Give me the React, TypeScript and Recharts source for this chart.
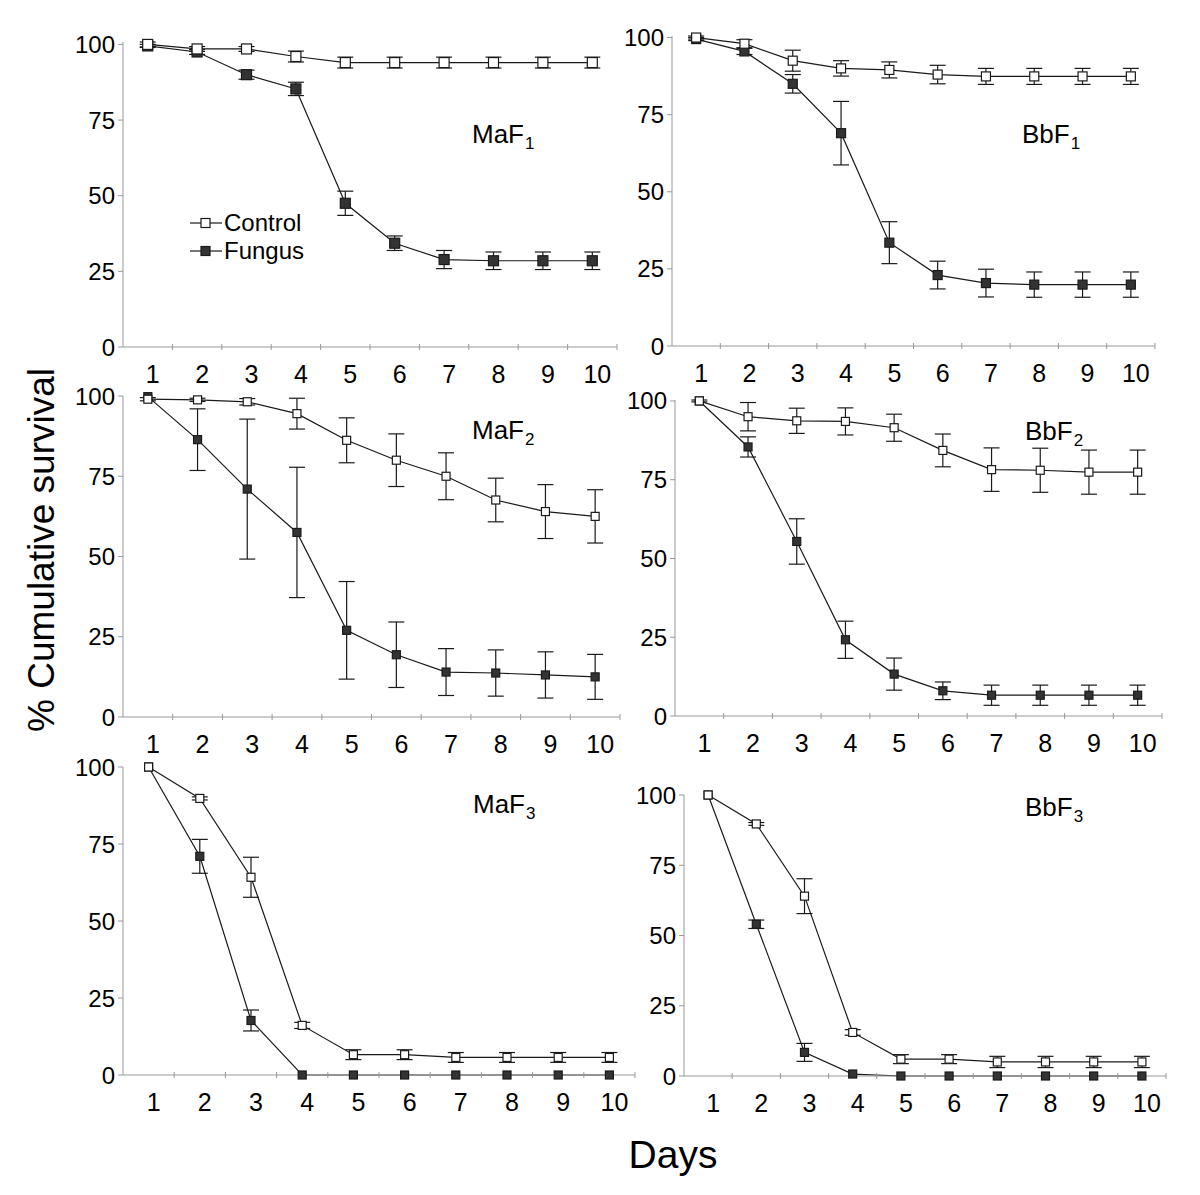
import React from 'react';
import { ErrorBar, Line, LineChart, XAxis, YAxis } from 'recharts';

const days = [1, 2, 3, 4, 5, 6, 7, 8, 9, 10];
const yTicks = [0, 25, 50, 75, 100];

const maf1Control = [100, 98.5, 98.5, 96, 94, 94, 94, 94, 94, 94];
const maf1ControlErr = [0.8, 0.8, 0.8, 1.8, 1.8, 1.8, 1.8, 1.8, 1.8, 1.8];
const maf1Fungus = [99.5, 97.5, 90, 85.3, 47.5, 34.3, 28.9, 28.5, 28.5, 28.5];
const maf1FungusErr = [0.5, 0.8, 1.5, 2.2, 4, 2.4, 3, 2.9, 2.9, 2.9];

const bbf1Control = [100, 98, 92.5, 90, 89.5, 88, 87.4, 87.4, 87.4, 87.4];
const bbf1ControlErr = [0.5, 1.3, 3.4, 2.5, 2.6, 3, 2.6, 2.6, 2.6, 2.6];
const bbf1Fungus = [99.5, 95.5, 85, 69, 33.5, 23, 20.4, 19.9, 19.9, 19.9];
const bbf1FungusErr = [0.5, 1, 3, 10.3, 6.8, 4.5, 4.5, 4.1, 4.1, 4.1];

const maf2Control = [99, 98.8, 98.2, 94.5, 86.2, 80, 75, 67.6, 64, 62.5];
const maf2ControlErr = [0.5, 0.5, 1, 4.8, 7, 8.2, 7.3, 6.8, 8.4, 8.3];
const maf2Fungus = [99.8, 86.4, 71, 57.5, 27, 19.4, 14, 13.7, 13.1, 12.5];
const maf2FungusErr = [0, 9.6, 21.8, 20.3, 15.2, 10.2, 7.3, 7.2, 7.2, 7];

const bbf2Control = [100, 95, 93.7, 93.5, 91.5, 84.3, 78.2, 78, 77.4, 77.4];
const bbf2ControlErr = [0.3, 4.5, 4, 4.3, 4.3, 5.2, 6.9, 7, 7, 7];
const bbf2Fungus = [100, 85.4, 55.4, 24.2, 13.3, 8, 6.6, 6.6, 6.6, 6.6];
const bbf2FungusErr = [0, 3.2, 7.2, 5.9, 5.1, 2.8, 3.2, 3.2, 3.2, 3.2];

const maf3Control = [100, 89.8, 64.2, 16.1, 6.6, 6.6, 5.7, 5.7, 5.7, 5.7];
const maf3ControlErr = [0, 0.5, 6.5, 1, 1.6, 1.6, 1.6, 1.6, 1.6, 1.6];
const maf3Fungus = [100, 71, 17.7, 0, 0, 0, 0, 0, 0, 0];
const maf3FungusErr = [0, 5.5, 3.4, 0, 0, 0, 0, 0, 0, 0];

const bbf3Control = [100, 89.7, 64, 15.5, 6, 6, 5, 5, 5, 5];
const bbf3ControlErr = [0, 0.5, 6.2, 1, 1.6, 1.6, 2, 2, 2, 2];
const bbf3Fungus = [100, 54, 8.4, 0.7, 0, 0, 0, 0, 0, 0];
const bbf3FungusErr = [0, 1.5, 3.2, 0, 0, 0, 0, 0, 0, 0];

const FONT = '"Liberation Sans", Arial, Helvetica, sans-serif';
const AXIS = '#999';
const INK = '#1a1a1a';

const buildRows = (control: number[], controlErr: number[], fungus: number[], fungusErr: number[]) =>
  days.map((d, i) => ({
    day: d,
    control: control[i],
    controlErr: controlErr[i],
    fungus: fungus[i],
    fungusErr: fungusErr[i],
  }));

const panels = [
  { name: 'MaF', sub: '1', rows: buildRows(maf1Control, maf1ControlErr, maf1Fungus, maf1FungusErr),
    left: 123, top: 42, width: 494, height: 305, titleX: 472, titleY: 143, marker: 10, legend: true },
  { name: 'BbF', sub: '1', rows: buildRows(bbf1Control, bbf1ControlErr, bbf1Fungus, bbf1FungusErr),
    left: 672, top: 36, width: 483, height: 310, titleX: 1022, titleY: 143, marker: 9 },
  { name: 'MaF', sub: '2', rows: buildRows(maf2Control, maf2ControlErr, maf2Fungus, maf2FungusErr),
    left: 123, top: 396, width: 497, height: 321, titleX: 472, titleY: 439, marker: 8 },
  { name: 'BbF', sub: '2', rows: buildRows(bbf2Control, bbf2ControlErr, bbf2Fungus, bbf2FungusErr),
    left: 675, top: 400, width: 487, height: 316, titleX: 1025, titleY: 440, marker: 8 },
  { name: 'MaF', sub: '3', rows: buildRows(maf3Control, maf3ControlErr, maf3Fungus, maf3FungusErr),
    left: 123, top: 767, width: 512, height: 308, titleX: 473, titleY: 813, marker: 8 },
  { name: 'BbF', sub: '3', rows: buildRows(bbf3Control, bbf3ControlErr, bbf3Fungus, bbf3FungusErr),
    left: 684, top: 795, width: 482, height: 281, titleX: 1025, titleY: 816, marker: 8 },
];

const squareDot = (size: number, fill: string) => (props: any) => {
  const { cx, cy, index } = props;
  if (cx == null || cy == null) return <g key={`d-${index}`} />;
  return (
    <rect
      key={`d-${index}`}
      x={cx - size / 2}
      y={cy - size / 2}
      width={size}
      height={size}
      fill={fill}
      stroke={INK}
      strokeWidth={1.2}
    />
  );
};

const DayTick = (props: any) => {
  const { x, y, payload, half } = props;
  return (
    <g>
      <line x1={x + half} y1={y - 3} x2={x + half} y2={y + 3} stroke={AXIS} />
      <text x={x + 5} y={y + 36} textAnchor="middle" fontSize={25} fontFamily={FONT} fill="#000">
        {payload.value}
      </text>
    </g>
  );
};

const LegendBox = () => (
  <div style={{ fontFamily: FONT, fontSize: 24, lineHeight: '28px', color: '#000' }}>
    {[
      { label: 'Control', fill: '#fff' },
      { label: 'Fungus', fill: '#333' },
    ].map((item) => (
      <div key={item.label} style={{ display: 'flex', alignItems: 'center' }}>
        <svg width={32} height={14} style={{ marginRight: 2 }}>
          <line x1={0} y1={7} x2={32} y2={7} stroke={INK} strokeWidth={1.2} />
          <rect x={11} y={2.5} width={9} height={9} fill={item.fill} stroke={INK} strokeWidth={1.2} />
        </svg>
        <span>{item.label}</span>
      </div>
    ))}
  </div>
);

const PADL = 72;
const PADT = 20;
const PADR = 12;
const PADB = 50;

const Panel = ({ p }: { p: (typeof panels)[number] }) => {
  const half = p.width / 20;
  return (
    <div style={{ position: 'absolute', left: p.left - PADL, top: p.top - PADT }}>
      <LineChart
        width={p.width + PADL + PADR}
        height={p.height + PADT + PADB}
        data={p.rows}
        margin={{ top: PADT, right: PADR, bottom: 0, left: 0 }}
      >
        <XAxis
          dataKey="day"
          type="number"
          domain={[0.5, 10.5]}
          ticks={days}
          height={PADB}
          axisLine={{ stroke: AXIS }}
          tickLine={false}
          tickSize={0}
          tickMargin={0}
          interval={0}
          tick={<DayTick half={half} />}
        />
        <YAxis
          type="number"
          domain={[0, 100]}
          ticks={yTicks}
          width={PADL}
          axisLine={{ stroke: AXIS }}
          tickLine={{ stroke: AXIS }}
          tickSize={5}
          tickMargin={3}
          interval={0}
          tick={{ fill: '#000', fontSize: 24, fontFamily: FONT }}
        />
        <Line
          dataKey="fungus"
          stroke={INK}
          strokeWidth={1.2}
          dot={squareDot(p.marker, '#333')}
          isAnimationActive={false}
        >
          <ErrorBar dataKey="fungusErr" width={8} stroke={INK} strokeWidth={1.2} direction="y" />
        </Line>
        <Line
          dataKey="control"
          stroke={INK}
          strokeWidth={1.2}
          dot={squareDot(p.marker, '#fff')}
          isAnimationActive={false}
        >
          <ErrorBar dataKey="controlErr" width={8} stroke={INK} strokeWidth={1.2} direction="y" />
        </Line>
      </LineChart>
      {p.legend && (
        <div style={{ position: 'absolute', left: 139, top: 187 }}>
          <LegendBox />
        </div>
      )}
    </div>
  );
};

const PanelTitle = ({ p }: { p: (typeof panels)[number] }) => (
  <div
    style={{
      position: 'absolute',
      left: p.titleX,
      top: p.titleY - 22,
      fontFamily: FONT,
      fontSize: 26,
      lineHeight: '26px',
      color: '#000',
      whiteSpace: 'nowrap',
    }}
  >
    {p.name}
    <span style={{ fontSize: 17, position: 'relative', top: 6, marginLeft: 1 }}>{p.sub}</span>
  </div>
);

export default function App() {
  return (
    <div style={{ position: 'absolute', left: 0, top: 0, width: 1200, height: 1195, background: '#fff' }}>
      {panels.map((p, i) => (
        <Panel key={i} p={p} />
      ))}
      {panels.map((p, i) => (
        <PanelTitle key={`t${i}`} p={p} />
      ))}
      <div
        style={{
          position: 'absolute',
          left: 42,
          top: 550,
          transform: 'translate(-50%, -50%) rotate(-90deg)',
          fontFamily: FONT,
          fontSize: 37,
          whiteSpace: 'nowrap',
          color: '#000',
        }}
      >
        % Cumulative survival
      </div>
      <div
        style={{
          position: 'absolute',
          left: 673,
          top: 1155,
          transform: 'translate(-50%, -50%)',
          fontFamily: FONT,
          fontSize: 39,
          whiteSpace: 'nowrap',
          color: '#000',
        }}
      >
        Days
      </div>
    </div>
  );
}
